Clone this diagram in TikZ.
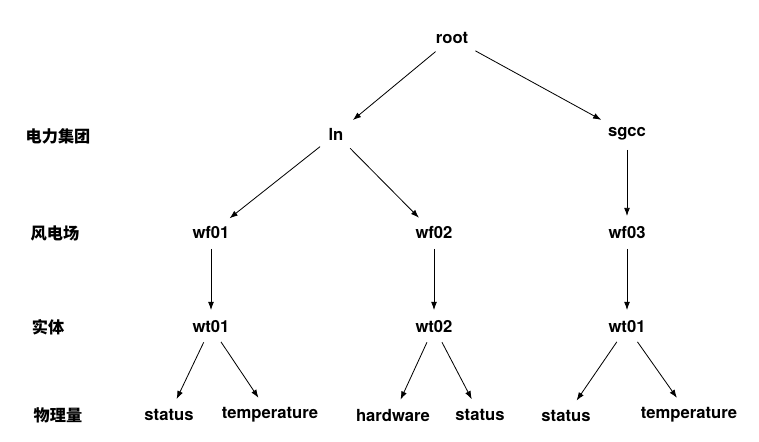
\documentclass[tikz,border=0pt]{standalone}
\usepackage{fontspec}
\setmainfont{TeX Gyre Heros}
\newfontfamily\cjk{Noto Sans CJK SC}
\usetikzlibrary{arrows.meta}
\tikzset{
    item/.style={
    font=\bfseries\fontsize{14.2}{16}\selectfont,inner sep=4pt
    },
    level/.style={
    font=\cjk\bfseries\fontsize{13.8}{16}\selectfont,inner sep=4pt
    },
    link/.style={
    -{Latex[length=7pt,width=5pt]},line width=0.7pt,shorten <=4pt,shorten >=5pt
    },
}
\begin{document}
\begin{tikzpicture}[x=0.03cm, y=-0.03cm]
   \useasboundingbox (0,0) rectangle (759,441);
   % level labels
   \node[level] (L1) at (58,136) {电力集团};
   \node[level] (L2) at (55,233) {风电场};
   \node[level] (L3) at (48,327) {实体};
   \node[level] (L4) at (58,415) {物理量};
   % tree
   \node[item] (root) at (452,38) {root};
   \node[item] (ln) at (336,134) {ln};
   \node[item] (sgcc) at (627,134) {sgcc};
   \node[item] (wf1) at (211,233) {wf01};
   \node[item] (wf2) at (434,233) {wf02};
   \node[item] (wf3) at (627,233) {wf03};
   \node[item] (wt1) at (211,327) {wt01};
   \node[item] (wt2) at (434,327) {wt02};
   \node[item] (wt3) at (627,327) {wt01};
   \node[item] (s1) at (169,415) {status};
   \node[item] (t1) at (270,415) {temperature};
   \node[item] (h2) at (393,416) {hardware};
   \node[item] (s2) at (480,415) {status};
   \node[item] (s3) at (566,416) {status};
   \node[item] (t3) at (689,415) {temperature};

  \path[link]
    (root) edge (ln)
    (root) edge (sgcc)
    (ln) edge (wf1)
    (ln) edge (wf2)
    (sgcc) edge (wf3)
    (wf1) edge (wt1)
    (wf2) edge (wt2)
    (wf3) edge (wt3)
    (wt1) edge (s1)
    (wt1) edge (t1)
    (wt2) edge (h2)
    (wt2) edge (s2)
    (wt3) edge (s3)
    (wt3) edge (t3);
\end{tikzpicture}
\end{document}
